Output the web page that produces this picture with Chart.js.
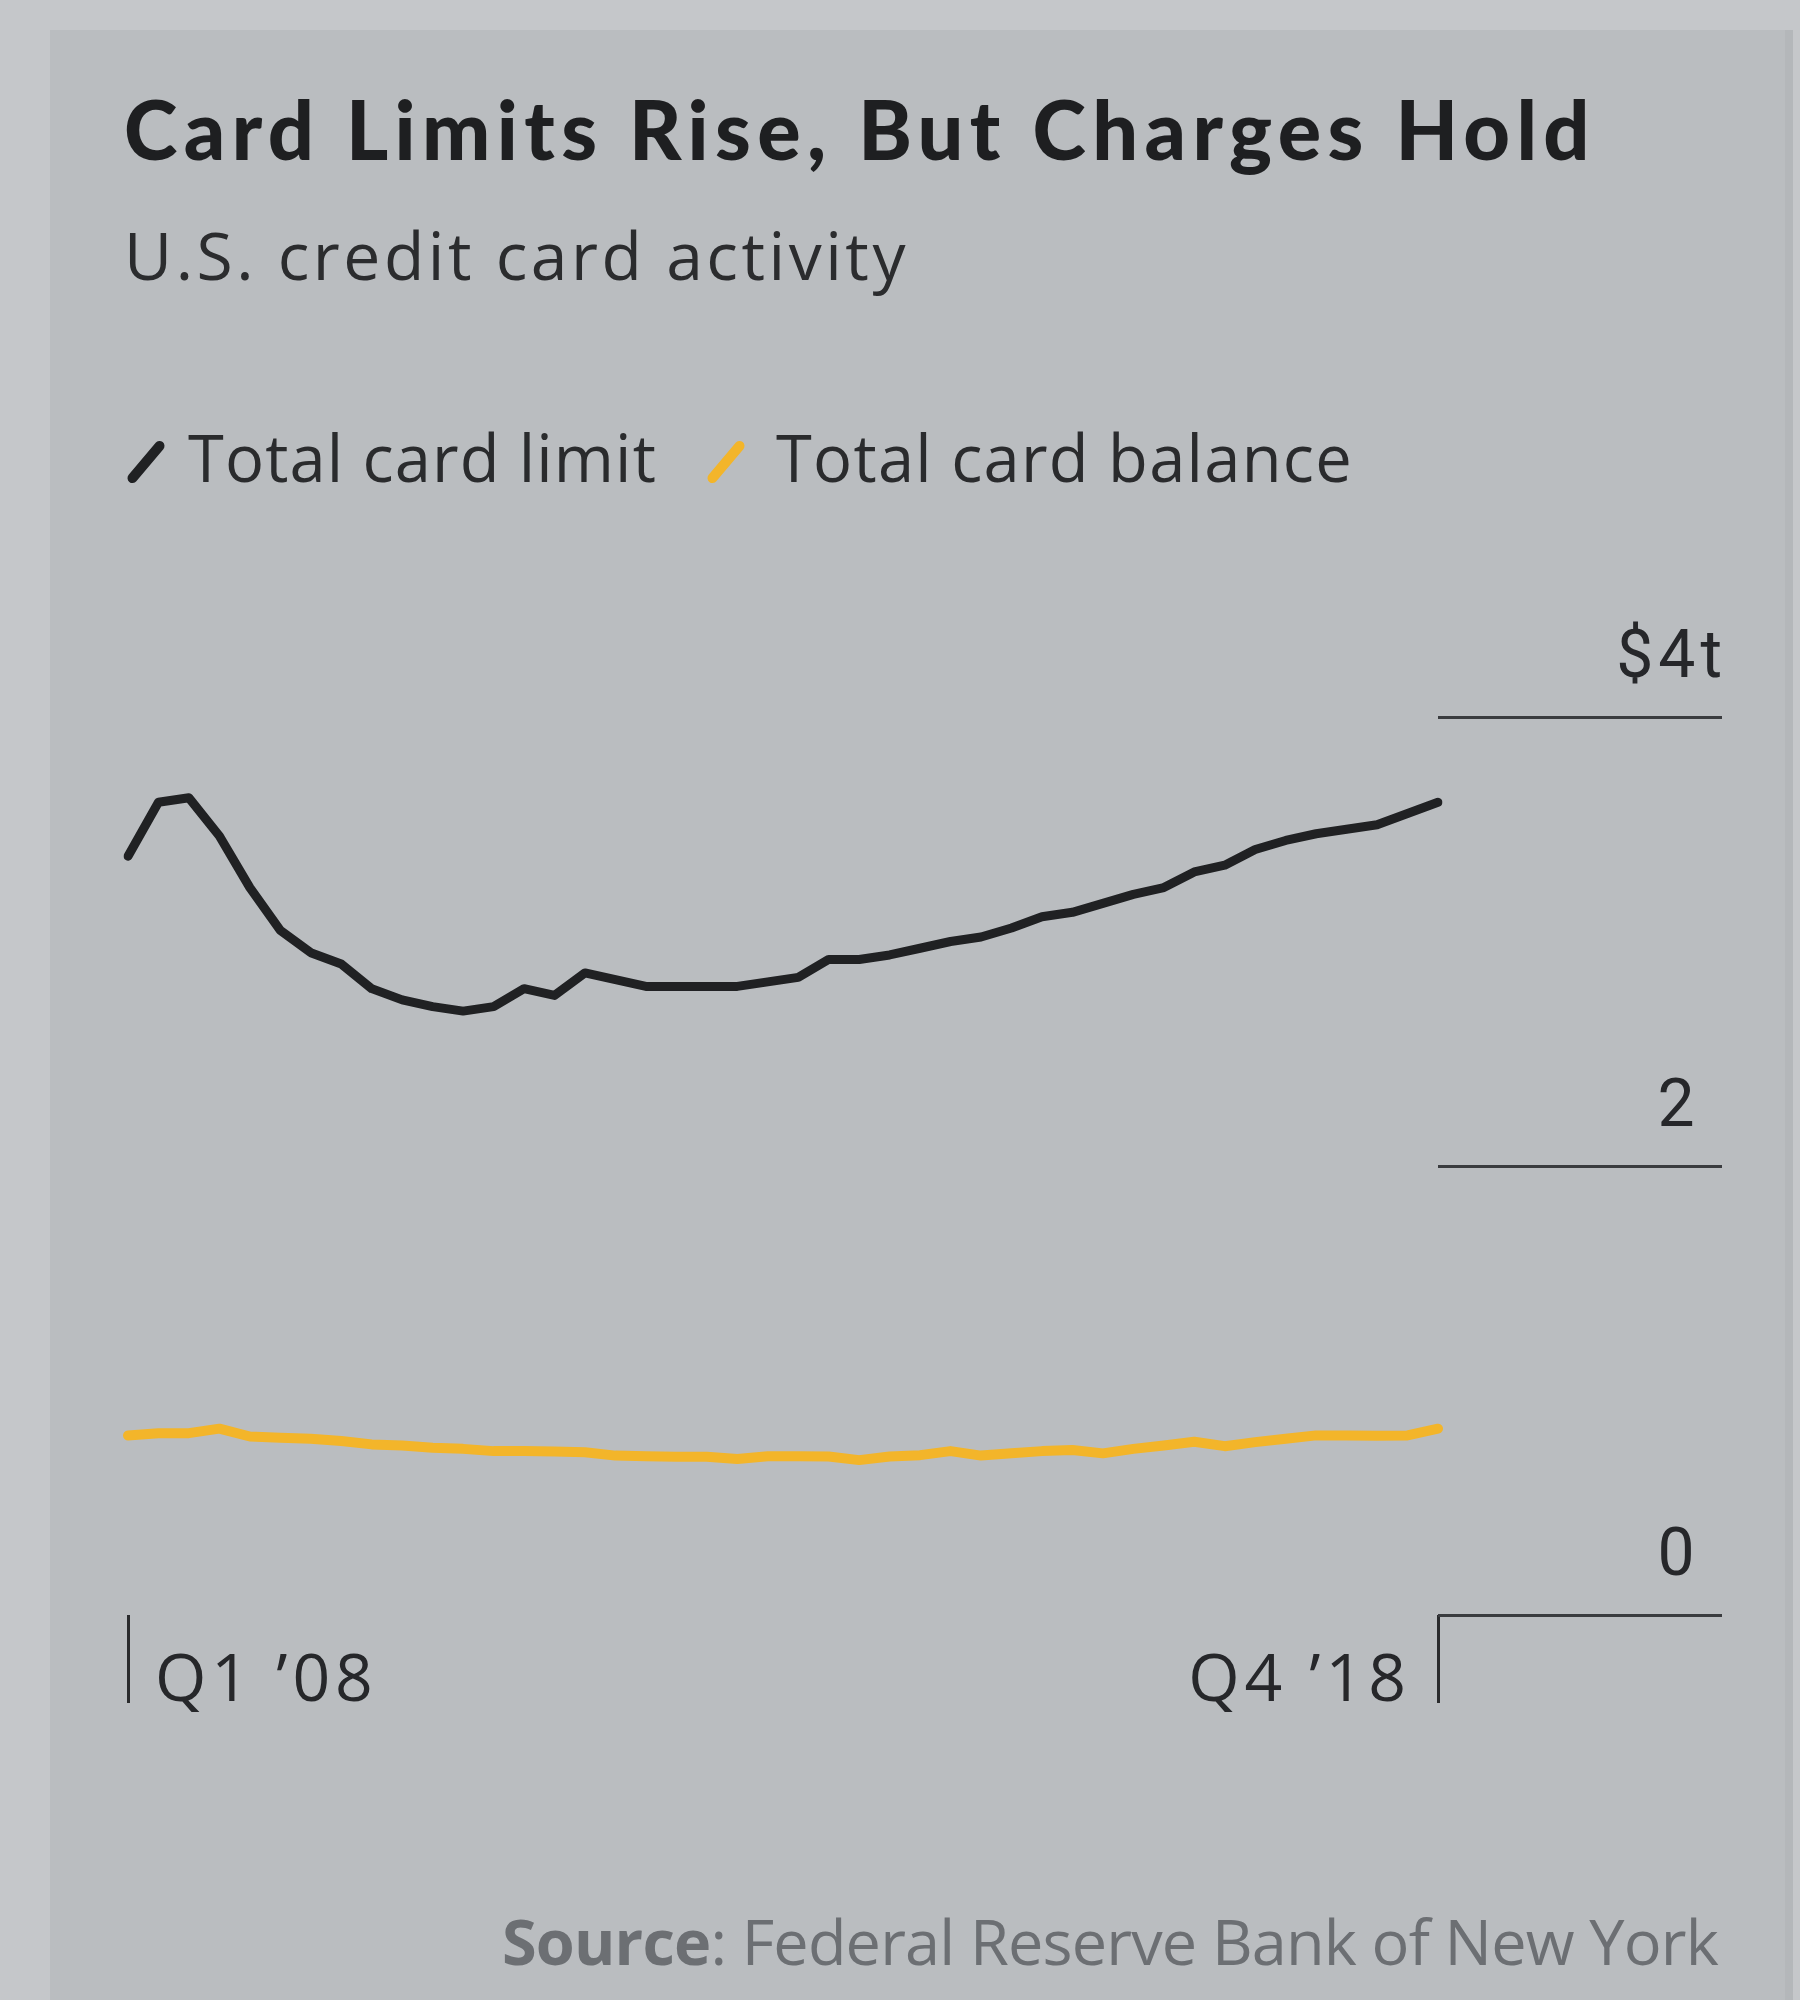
<!DOCTYPE html>
<html>
<head>
<meta charset="utf-8">
<script src="https://cdn.jsdelivr.net/npm/chart.js@4.4.1/dist/chart.umd.min.js"></script>
<style>
    html, body { margin: 0; padding: 0; }
    body {
        width: 1800px; height: 2000px; overflow: hidden;
        background: #c5c7ca;
        font-family: 'Open Sans', Roboto, sans-serif;
        position: relative;
    }
    .panel {
        position: absolute; left: 50px; top: 30px; width: 1735px; height: 1980px;
        background: #babdc0;
        border-right: 8px solid #b4b7ba;
    }
    .txt { position: absolute; white-space: nowrap; line-height: 1; }
    #title { left: 124px; top: 88px; font-family: Lato, Roboto, sans-serif; font-size: 81px; font-weight: 900; color: #1e1f21; }
    #subtitle { left: 124px; top: 221px; font-size: 66px; color: #2b2c2e; }
    .legend-text { top: 425px; font-size: 65px; color: #2a2b2d; }
    .swatch {
        position: absolute; width: 10px; height: 52px; border-radius: 5px;
        transform: rotate(40deg);
    }
    #source { right: 82px; top: 1909px; font-size: 63px; color: #6c6f73; }
    #source b { font-weight: 700; }
    .chart-box { position: absolute; left: 0; top: 600px; width: 1800px; height: 1160px; }
</style>
</head>
<body>
<div class="panel"></div>
<div id="title" class="txt">Card Limits Rise, But Charges Hold</div>
<div id="subtitle" class="txt">U.S. credit card activity</div>
<div id="legend"></div>
<div class="chart-box"><canvas id="cardChart"></canvas></div>
<div id="source" class="txt"><b>Source</b>: Federal Reserve Bank of New York</div>

<script>
// Quarterly, Q1 2008 - Q4 2018, trillions of dollars
const quarters = [];
for (let y = 2008; y <= 2018; y++) {
    for (let q = 1; q <= 4; q++) quarters.push(`Q${q} ${y}`);
}

const cardLimit = [
    3.38, 3.62, 3.64, 3.47, 3.24, 3.05, 2.95, 2.90, 2.79, 2.74, 2.71,
    2.69, 2.71, 2.79, 2.76, 2.86, 2.83, 2.80, 2.80, 2.80, 2.80, 2.82,
    2.84, 2.92, 2.92, 2.94, 2.97, 3.00, 3.02, 3.06, 3.11, 3.13, 3.17,
    3.21, 3.24, 3.31, 3.34, 3.41, 3.45, 3.48, 3.50, 3.52, 3.57, 3.62
];

const cardBalance = [
    0.80, 0.81, 0.81, 0.83, 0.795, 0.79, 0.785, 0.775, 0.76, 0.755, 0.745,
    0.74, 0.73, 0.73, 0.728, 0.725, 0.71, 0.707, 0.705, 0.705, 0.695, 0.707,
    0.707, 0.706, 0.69, 0.706, 0.712, 0.73, 0.71, 0.72, 0.73, 0.735, 0.72,
    0.74, 0.755, 0.772, 0.752, 0.77, 0.785, 0.80, 0.80, 0.798, 0.80, 0.83
];

const seriesNames = ['Total card limit', 'Total card balance'];
const seriesColors = ['#202123', '#f3b52a'];
const yTicks = [0, 2, 4];

const INK = '#26272a';
const GAP = '\u2004'; // three-per-em space between tick and label

// stretch letter spacing so a line of text spans the wanted width
function fitText(el, width) {
    const w = el.getBoundingClientRect().width;
    const n = el.textContent.length;
    el.style.letterSpacing = ((width - w) / n) + 'px';
}

// "Q1 2008" -> "Q1 ’08"
function shortQuarter(label) {
    const [q, y] = label.split(' ');
    return `${q} \u2019${y.slice(2)}`;
}

// axis labels are set a little loose
const trackedLabels = {
    id: 'trackedLabels',
    beforeDraw(chart) { chart.ctx.letterSpacing = '5px'; },
    afterDraw(chart) { chart.ctx.letterSpacing = '0px'; }
};

const ctx = document.getElementById('cardChart').getContext('2d');

const chart = new Chart(ctx, {
    type: 'line',
    data: {
        labels: quarters,
        datasets: [
            {
                label: seriesNames[0],
                data: cardLimit,
                borderColor: seriesColors[0],
                borderWidth: 9,
                pointRadius: 0,
                tension: 0,
                borderJoinStyle: 'round',
                borderCapStyle: 'round'
            },
            {
                label: seriesNames[1],
                data: cardBalance,
                borderColor: seriesColors[1],
                borderWidth: 10,
                pointRadius: 0,
                tension: 0,
                borderJoinStyle: 'round',
                borderCapStyle: 'round'
            }
        ]
    },
    plugins: [trackedLabels],
    options: {
        responsive: true,
        maintainAspectRatio: false,
        animation: false,
        layout: { padding: { left: 128, top: 117, right: 73, bottom: 45 } },
        plugins: {
            legend: { display: false },
            tooltip: { enabled: false }
        },
        scales: {
            x: {
                offset: false,
                border: { display: false },
                grid: {
                    drawOnChartArea: false,
                    drawTicks: true,
                    tickLength: 88,
                    tickWidth: 3,
                    tickColor: '#2a2b2d'
                },
                ticks: {
                    autoSkip: false,
                    maxRotation: 0,
                    align: 'inner',
                    padding: -60,
                    color: INK,
                    font: { family: 'Open Sans', size: 66 },
                    callback: function (value, index) {
                        const last = quarters.length - 1;
                        if (index === 0) return GAP + shortQuarter(quarters[index]);
                        if (index === last) return shortQuarter(quarters[index]) + GAP;
                        return null;
                    }
                },
                afterFit: (scale) => { scale.height = 100; }
            },
            y: {
                position: 'right',
                min: 0,
                max: 4,
                border: { display: false },
                grid: {
                    drawOnChartArea: false,
                    drawTicks: true,
                    tickLength: 284,
                    tickWidth: 3,
                    tickColor: '#3a3c3f'
                },
                afterBuildTicks: (scale) => {
                    scale.ticks = yTicks.map(v => ({ value: v }));
                },
                ticks: {
                    crossAlign: 'far',
                    labelOffset: -57,
                    color: INK,
                    font: { family: 'Roboto', size: 66 },
                    // digits line up; the unit hangs to the right
                    callback: (v) => v === 4 ? '$4t' : v + '\u2004'
                },
                afterFit: (scale) => { scale.width = 289; }
            }
        }
    }
});

// Legend built from the datasets
const legendX = [[125, 188, 657], [705, 776, 1353]];
const legendEl = document.getElementById('legend');
chart.data.datasets.forEach((ds, i) => {
    const [swatchX, textX, textEnd] = legendX[i];
    const sw = document.createElement('div');
    sw.className = 'swatch';
    sw.style.left = (swatchX + 16) + 'px';
    sw.style.top = '436px';
    sw.style.background = ds.borderColor;
    legendEl.appendChild(sw);

    const t = document.createElement('div');
    t.className = 'txt legend-text';
    t.style.left = textX + 'px';
    t.textContent = ds.label;
    legendEl.appendChild(t);
    fitText(t, textEnd - textX);
});

fitText(document.getElementById('title'), 1472);
fitText(document.getElementById('subtitle'), 785);
fitText(document.getElementById('source'), 1216);
</script>
</body>
</html>
